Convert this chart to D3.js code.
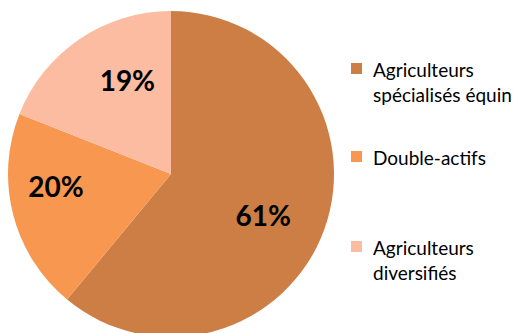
<!DOCTYPE html>
<html>
<head>
<meta charset="utf-8">
<script src="https://cdn.jsdelivr.net/npm/d3@7"></script>
<style>
  html, body { margin: 0; padding: 0; background: #fff; overflow: hidden; }
  svg { display: block; }
</style>
</head>
<body>
<svg id="chart" width="515" height="333"></svg>
<script>
// Répartition des exploitants
const categories = ["Agriculteurs spécialisés équin", "Double-actifs", "Agriculteurs diversifiés"];
const legendLines = [["Agriculteurs", "spécialisés équin"], ["Double-actifs"], ["Agriculteurs", "diversifiés"]];
const values = [61, 20, 19];
const colors = ["#CC7E45", "#F79750", "#FBBCA1"];

const svg = d3.select("#chart");
const cx = 171, cy = 174, radius = 163;

// Décalage fin des étiquettes de pourcentage par rapport au centroïde
const labelNudge = [[-6, 7], [-14, -13], [15, -7]];

const data = categories.map((c, i) => ({ name: c, value: values[i], lines: legendLines[i], color: colors[i], nudge: labelNudge[i] }));

const pie = d3.pie().value(d => d.value).sort(null);
const arcs = pie(data);
const arc = d3.arc().innerRadius(0).outerRadius(radius);
const labelArc = d3.arc().innerRadius(radius * 0.64).outerRadius(radius * 0.64);

const g = svg.append("g").attr("transform", `translate(${cx},${cy})`);

g.selectAll("path.slice")
  .data(arcs)
  .join("path")
  .attr("class", "slice")
  .attr("d", arc)
  .attr("fill", d => d.data.color);

g.selectAll("text.pct")
  .data(arcs)
  .join("text")
  .attr("class", "pct")
  .attr("transform", d => {
    const [x, y] = labelArc.centroid(d);
    return `translate(${x + d.data.nudge[0]},${y + d.data.nudge[1]})`;
  })
  .attr("text-anchor", "middle")
  .attr("dy", "0.36em")
  .style("font-family", "Lato, 'Open Sans', sans-serif")
  .style("font-weight", "bold")
  .style("font-size", "28px")
  .attr("fill", "#000")
  .text(d => d.data.value + "%");

// Légende
const legendBase = [77, 165, 255];
const items = svg.append("g").selectAll("g.item")
  .data(data)
  .join("g")
  .attr("class", "item")
  .attr("transform", (d, i) => `translate(351,${legendBase[i]})`);

items.append("rect")
  .attr("x", 0).attr("y", -14)
  .attr("width", 11).attr("height", 11)
  .attr("fill", d => d.color);

items.append("text")
  .style("font-family", "Lato, 'Open Sans', sans-serif")
  .style("font-size", "19px")
  .attr("fill", "#000")
  .selectAll("tspan")
  .data(d => d.lines)
  .join("tspan")
  .attr("x", 22)
  .attr("y", (t, i) => i * 25)
  .text(t => t);
</script>
</body>
</html>
